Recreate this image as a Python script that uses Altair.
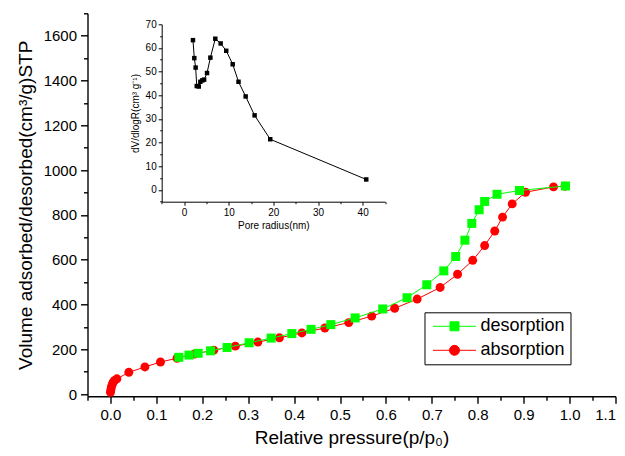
import altair as alt
import pandas as pd

# ---- data ----
des_p = [0.149, 0.171, 0.191, 0.218, 0.254, 0.302, 0.350, 0.395, 0.437, 0.480,
         0.533, 0.593, 0.646, 0.689, 0.726, 0.752, 0.772, 0.787, 0.803, 0.815,
         0.842, 0.891, 0.991]
des_v = [164, 174, 182, 193, 208, 229, 250, 270, 289, 310,
         340, 380, 430, 488, 550, 614, 687, 762, 823, 860,
         892, 909, 929]

abs_p = [0.000, 0.001, 0.002, 0.004, 0.006, 0.009, 0.014, 0.040, 0.075, 0.109,
         0.145, 0.183, 0.225, 0.272, 0.321, 0.368, 0.417, 0.467, 0.519, 0.569,
         0.619, 0.668, 0.718, 0.756, 0.789, 0.815, 0.837, 0.854, 0.875, 0.904,
         0.965, 0.990]
abs_v = [8, 20, 32, 44, 53, 61, 68, 97, 121, 143,
         160, 179, 196, 214, 232, 251, 273, 295, 319, 348,
         383, 424, 476, 535, 597, 663, 728, 790, 849, 901,
         925, 928]

pore_r = [2.0, 2.3, 2.6, 2.85, 3.3, 3.65, 4.1, 4.5, 5.15, 5.9,
          7.0, 8.2, 9.45, 10.9, 12.2, 13.8, 15.8, 19.3, 40.8]
pore_dv = [63.3, 55.7, 51.7, 43.9, 43.7, 45.7, 46.3, 46.6, 49.4, 55.9,
           63.9, 61.9, 58.8, 53.1, 45.7, 39.5, 31.5, 21.4, 4.4]

series_names = ["desorption", "absorption"]
series_colors = ["#00ff00", "#ff0000"]

# tick positions
x_major = [round(0.1 * i, 1) for i in range(12)]
x_minor = [round(-0.05 + 0.1 * i, 2) for i in range(12)]
y_major = list(range(0, 1601, 200))
y_minor = list(range(100, 1701, 200))
ix_major = list(range(0, 41, 10))
ix_minor = list(range(-5, 46, 10))
iy_major = list(range(0, 71, 10))
iy_minor = list(range(-5, 66, 10))

des = pd.DataFrame({"p": des_p, "v": des_v, "series": "desorption"})
ads = pd.DataFrame({"p": abs_p, "v": abs_v, "series": "absorption"})
iso = pd.concat([ads, des], ignore_index=True)
pore = pd.DataFrame({"r": pore_r, "dv": pore_dv})

FONT = "Liberation Sans"
W, H = 528, 383

X_DOM = [-0.05, 1.1]
Y_DOM = [-10, 1700]


def main_x(axis):
    return alt.X("p:Q", scale=alt.Scale(domain=X_DOM, nice=False, zero=False), axis=axis)


def main_y(axis):
    return alt.Y("v:Q", scale=alt.Scale(domain=Y_DOM, nice=False, zero=False), axis=axis)


x_axis = alt.Axis(
    orient="bottom", values=x_major, format=".1f", title="Relative pressure(p/p\u2080)",
    tickSize=7, labelFontSize=15, titleFontSize=19, labelPadding=4, titlePadding=6,
    labelFlush=False, labelOverlap=False,
    labelAlign={"condition": {"test": "datum.value > 1.05", "value": "right"}, "value": "center"},
)
y_axis = alt.Axis(
    orient="left", values=y_major, format="d", title="Volume adsorbed/desorbed(cm\u00b3/g)STP",
    tickSize=7, labelFontSize=15, titleFontSize=19, labelPadding=4, titlePadding=8,
    labelFlush=False, labelOverlap=False,
)

base = alt.Chart(iso)
red_line = base.transform_filter("datum.series == 'absorption'").mark_line(
    color="#ff0000", strokeWidth=1).encode(x=main_x(x_axis), y=main_y(y_axis), order="p:Q")
red_pts = base.transform_filter("datum.series == 'absorption'").mark_circle(
    color="#ff0000", size=80, opacity=1).encode(x="p:Q", y="v:Q")
green_line = base.transform_filter("datum.series == 'desorption'").mark_line(
    color="#00ff00", strokeWidth=1).encode(x="p:Q", y="v:Q", order="p:Q")
green_pts = base.transform_filter("datum.series == 'desorption'").mark_square(
    color="#00ff00", size=81, opacity=1).encode(x="p:Q", y="v:Q")

legend_paths = [
    "M-4.3,0H4.3M-0.9,-0.9H0.9V0.9H-0.9Z",
    "M-4.3,0H4.3M1,0A1,1,0,1,1,-1,0A1,1,0,1,1,1,0Z",
]
leg = alt.Legend(
    title=None, orient="none", legendX=337, legendY=299,
    labelFont=FONT, labelFontSize=18, labelColor="black",
    symbolSize=100, symbolStrokeWidth=1, symbolOpacity=1,
    symbolOffset=16, labelOffset=17, padding=5, rowPadding=6,
    strokeColor="black", fillColor="white",
)
legend_layer = base.mark_point(filled=True, opacity=0).encode(
    x="p:Q", y="v:Q",
    fill=alt.Fill("series:N", scale=alt.Scale(domain=series_names, range=series_colors), legend=leg),
    stroke=alt.Stroke("series:N", scale=alt.Scale(domain=series_names, range=series_colors), legend=leg),
    shape=alt.Shape("series:N", scale=alt.Scale(domain=series_names, range=legend_paths), legend=leg),
)

main = alt.layer(red_line, red_pts, green_line, green_pts, legend_layer)

# minor ticks of the main axes (an extra axis pair on identical scales)
main_minor = base.mark_point(opacity=0).encode(
    x=main_x(alt.Axis(orient="bottom", values=x_minor, labels=False, domain=False,
                      tickSize=4, title=None)),
    y=main_y(alt.Axis(orient="left", values=y_minor, labels=False, domain=False,
                      tickSize=4, title=None)),
)

# ---- inset ----
IX0, IX1 = 74.2, 297.5
IY0, IY1 = 188.4, 11.0
IX_DOM = [-5, 45]
IY_DOM = [-5, 70]


def inset_x(axis):
    return alt.X("r:Q", scale=alt.Scale(domain=IX_DOM, range=[IX0, IX1], nice=False, zero=False), axis=axis)


def inset_y(axis):
    return alt.Y("dv:Q", scale=alt.Scale(domain=IY_DOM, range=[IY0, IY1], nice=False, zero=False), axis=axis)


ix_axis = alt.Axis(
    orient="bottom", offset=IY0 - H, values=ix_major, format="d", title="Pore radius(nm)",
    tickSize=3.5, labelFontSize=10, titleFontSize=10, labelPadding=2, titlePadding=3,
    labelFlush=False, labelOverlap=False, domainWidth=1, tickWidth=1,
)
iy_axis = alt.Axis(
    orient="left", offset=-IX0, values=iy_major, format="d", title="dV/dlogR(cm\u00b3 g\u207b\u00b9)",
    tickSize=3.5, labelFontSize=10, titleFontSize=10, labelPadding=2, titlePadding=5,
    labelFlush=False, labelOverlap=False, domainWidth=1, tickWidth=1,
)
pbase = alt.Chart(pore)
inset_line = pbase.mark_line(color="black", strokeWidth=1).encode(
    x=inset_x(ix_axis), y=inset_y(iy_axis), order="r:Q")
inset_pts = pbase.mark_square(color="black", size=20, opacity=1).encode(x="r:Q", y="dv:Q")
inset = alt.layer(inset_line, inset_pts)

inset_minor = pbase.mark_point(opacity=0).encode(
    x=inset_x(alt.Axis(orient="bottom", offset=IY0 - H, values=ix_minor, labels=False,
                       domain=False, tickSize=2, tickWidth=1, title=None)),
    y=inset_y(alt.Axis(orient="left", offset=-IX0, values=iy_minor, labels=False,
                       domain=False, tickSize=2, tickWidth=1, title=None)),
)

chart = alt.layer(main, main_minor, inset, inset_minor).resolve_scale(
    x="independent", y="independent"
).properties(
    width=W, height=H,
    autosize=alt.AutoSizeParams(type="none"),
    padding={"left": 79.5, "top": 5.3, "right": 1.5, "bottom": 51.5},
).configure_view(stroke=None).configure_axis(
    grid=False, domainColor="black", tickColor="black", labelColor="black",
    titleColor="black", labelFont=FONT, titleFont=FONT, titleFontWeight="normal",
    domainWidth=1.4, tickWidth=1.4,
)

chart.save("out.html", embed_options={"renderer": "svg", "actions": False})
